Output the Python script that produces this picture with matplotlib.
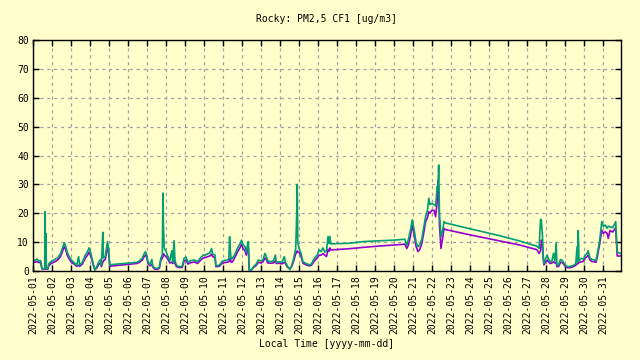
import numpy as np
import pandas as pd
import matplotlib
matplotlib.use('Agg')
import matplotlib.pyplot as plt
import matplotlib.dates as mdates

# days since 2022-05-01 00:00 local time
day = [0.00, 0.10, 0.20, 0.30, 0.40, 0.47, 0.55, 0.62, 0.63, 0.65, 0.68, 0.70, 0.78, 0.83, 0.90,
       1.00, 1.15, 1.30, 1.45, 1.55, 1.65, 1.72, 1.80, 1.90, 2.02, 2.15, 2.30, 2.40, 2.45, 2.60,
       2.75, 2.85, 2.95, 3.05, 3.15, 3.25, 3.35, 3.45, 3.55, 3.60, 3.67, 3.70, 3.80, 3.87, 3.92,
       3.97, 4.04, 4.10, 5.45, 5.60, 5.75, 5.85, 5.92, 5.98, 6.05, 6.15, 6.25, 6.30, 6.40, 6.55,
       6.65, 6.72, 6.80, 6.84, 6.86, 6.90, 7.00, 7.10, 7.20, 7.30, 7.35, 7.42, 7.47, 7.55, 7.70,
       7.85, 7.95, 8.05, 8.15, 8.30, 8.50, 8.65, 8.80, 8.95, 9.05, 9.20, 9.30, 9.39, 9.45, 9.58,
       9.62, 9.80, 9.95, 10.05, 10.20, 10.30, 10.34, 10.38, 10.42, 10.50, 10.60, 10.75, 10.90,
       10.97, 11.05, 11.15, 11.22, 11.30, 11.33, 11.37, 11.50, 11.60, 11.75, 11.85, 12.00, 12.10,
       12.20, 12.27, 12.35, 12.50, 12.65, 12.75, 12.80, 12.95, 13.10, 13.22, 13.28, 13.40, 13.52,
       13.60, 13.70, 13.82, 13.88, 13.90, 13.93, 14.00, 14.10, 14.20, 14.40, 14.55, 14.65, 14.80,
       14.95, 15.05, 15.15, 15.25, 15.35, 15.44, 15.52, 15.57, 15.62, 15.66, 16.60, 17.40, 18.30,
       19.00, 19.56, 19.62, 19.66, 19.75, 19.85, 19.95, 20.05, 20.15, 20.25, 20.35, 20.45, 20.55,
       20.65, 20.75, 20.82, 20.88, 20.97, 21.10, 21.18, 21.26, 21.30, 21.34, 21.38, 21.46, 21.55,
       21.62, 21.67, 23.00, 24.50, 25.60, 26.50, 26.62, 26.70, 26.74, 26.80, 26.84, 26.88, 26.95,
       27.05, 27.12, 27.20, 27.30, 27.38, 27.45, 27.52, 27.56, 27.65, 27.75, 27.85, 27.95, 28.05,
       28.20, 28.35, 28.45, 28.55, 28.62, 28.65, 28.68, 28.72, 28.85, 28.95, 29.05, 29.15, 29.20,
       29.30, 29.40, 29.50, 29.62, 29.70, 29.80, 29.92, 30.00, 30.10, 30.20, 30.26, 30.35, 30.50,
       30.65, 30.73, 30.85, 30.93]

# channel A (violet)
pm_a = [3.2, 3.0, 3.3, 2.9, 3.0, 0.7, 0.5, 0.8, 1.5, 0.8, 1.5, 0.7, 0.6, 1.8, 2.3,
        2.8, 3.2, 3.8, 5.0, 6.8, 8.4, 7.5, 5.5, 4.2, 3.0, 2.5, 1.6, 2.0, 1.6, 2.4,
        4.5, 5.3, 6.5, 5.0, 2.5, 0.5, 1.0, 2.2, 2.8, 1.5, 3.0, 3.5, 4.0, 6.5, 8.5,
        6.8, 1.6, 1.7, 2.6, 3.0, 3.8, 5.0, 5.5, 4.8, 2.6, 1.8, 2.2, 1.4, 0.6, 0.6,
        1.0, 3.5, 4.5, 5.0, 6.0, 5.5, 5.0, 4.0, 2.8, 3.0, 2.6, 3.5, 2.5, 1.5, 1.2,
        1.2, 3.5, 3.8, 2.4, 2.9, 3.1, 2.6, 3.6, 4.5, 4.6, 5.0, 5.2, 5.8, 5.0, 4.6,
        1.5, 1.6, 2.7, 2.9, 3.0, 3.2, 4.0, 4.5, 3.0, 3.2, 4.5, 6.5, 8.2,
        9.3, 7.8, 7.0, 5.5, 8.5, 8.0, 0.5, 0.4, 1.2, 2.0, 3.0, 2.8, 3.2,
        4.5, 4.0, 2.8, 2.7, 2.8, 3.5, 2.6, 2.7, 2.5, 3.0, 2.5, 1.2, 1.0,
        1.4, 3.2, 6.0, 6.5, 7.0, 6.5, 6.5, 5.0, 2.7, 2.0, 1.8, 2.0, 3.5,
        4.5, 5.5, 5.5, 6.0, 5.5, 5.0, 7.5, 6.8, 8.0, 7.3, 7.7, 8.2, 8.7,
        9.0, 9.3, 8.4, 7.8, 9.0, 12.0, 15.9, 12.5, 8.5, 6.7, 7.5, 9.5, 13.0,
        17.1, 18.5, 20.5, 20.0, 21.0, 21.0, 18.8, 24.0, 31.5, 28.0, 16.0, 7.8, 11.5,
        14.8, 14.4, 12.5, 10.5, 9.0, 7.4, 6.1, 7.0, 10.7, 9.0, 4.0, 2.1, 3.0,
        3.8, 3.2, 2.6, 2.8, 3.2, 2.8, 3.0, 1.5, 1.6, 3.0, 2.9, 2.0, 1.3,
        1.1, 1.3, 1.6, 2.0, 2.5, 2.5, 3.0, 2.9, 3.2, 3.3, 4.5, 5.0, 5.5,
        3.8, 3.3, 3.2, 3.0, 5.5, 9.0, 14.2, 13.0, 13.6, 13.0, 11.3, 14.0, 13.5,
        15.0, 5.2, 5.2, 5.2]

# channel B (green)
pm_b = [4.0, 3.6, 4.2, 3.5, 3.6, 1.0, 0.6, 1.0, 20.5, 1.2, 13.0, 1.0, 0.8, 2.5, 3.0,
        3.5, 4.0, 4.5, 6.0, 8.0, 9.8, 8.5, 6.5, 5.0, 3.8, 3.0, 2.0, 5.0, 2.0, 3.0,
        5.5, 6.5, 8.0, 6.0, 3.0, 0.3, 1.5, 3.0, 4.0, 2.0, 13.4, 4.5, 5.0, 8.0, 10.2,
        8.0, 2.0, 2.2, 3.0, 3.5, 4.5, 6.0, 6.7, 5.5, 3.2, 2.2, 4.0, 1.8, 1.0, 0.9,
        1.5, 4.4, 5.5, 27.0, 16.5, 8.0, 6.7, 5.0, 3.5, 7.0, 3.0, 10.5, 3.5, 2.0, 1.5,
        1.6, 4.5, 4.8, 3.0, 3.6, 3.8, 3.2, 4.5, 5.5, 5.5, 6.0, 6.2, 7.8, 5.8, 5.5,
        1.8, 2.0, 3.3, 3.6, 3.8, 4.0, 11.9, 7.0, 4.2, 4.4, 5.5, 7.8, 9.5,
        10.7, 9.0, 8.4, 6.5, 9.8, 10.2, 0.3, 0.5, 1.5, 2.5, 3.8, 3.5, 4.0,
        6.1, 5.0, 3.5, 3.2, 3.5, 5.5, 3.0, 3.2, 3.0, 5.0, 3.0, 1.5, 0.5,
        1.8, 4.0, 7.8, 21.7, 30.0, 10.0, 7.8, 6.0, 3.2, 2.5, 2.1, 2.5, 4.4,
        5.5, 7.3, 6.7, 8.0, 6.5, 7.0, 11.9, 9.5, 12.0, 9.4, 9.6, 10.2, 10.5,
        10.7, 11.0, 9.6, 9.0, 11.0, 14.0, 17.7, 14.2, 10.0, 8.4, 9.0, 11.0, 15.0,
        18.8, 21.0, 25.2, 23.0, 23.4, 23.0, 22.5, 29.2, 28.0, 36.7, 20.0, 11.9, 14.0,
        17.1, 16.7, 14.6, 12.3, 10.4, 8.6, 7.8, 17.9, 17.5, 12.0, 5.0, 2.6, 4.0,
        5.5, 4.0, 3.2, 3.5, 6.1, 3.5, 9.8, 2.1, 2.2, 4.0, 3.6, 2.5, 1.7,
        1.5, 1.8, 2.0, 2.6, 8.4, 3.0, 14.0, 3.5, 4.4, 4.0, 5.5, 6.1, 7.0,
        4.5, 4.0, 3.9, 3.6, 6.5, 10.2, 17.1, 15.5, 15.9, 14.8, 15.5, 15.3, 15.0,
        17.1, 6.7, 6.1, 6.1]

title = 'Rocky: PM2,5 CF1 [ug/m3]'
xlabel = 'Local Time [yyyy-mm-dd]'

bg = '#ffffcc'
plt.rcParams['font.family'] = 'DejaVu Sans Mono'
plt.rcParams['font.size'] = 7

start = pd.Timestamp('2022-05-01')
t = start + pd.to_timedelta(day, unit='D')

fig = plt.figure(figsize=(6.4, 3.6), dpi=100, facecolor=bg)
ax = fig.add_axes([33 / 640, 1 - 271 / 360, (621 - 33) / 640, (271 - 40) / 360])
ax.set_facecolor(bg)

ax.plot(t, pm_a, color='#9400d3', lw=1.2)
ax.plot(t, pm_b, color='#009e73', lw=1.2)

ax.set_xlim(t[0], t[-1])
ax.set_ylim(0, 80)
ax.set_yticks(np.arange(0, 81, 10))
ax.xaxis.set_major_locator(mdates.DayLocator())
ax.xaxis.set_major_formatter(mdates.DateFormatter('%Y-%m-%d'))
plt.setp(ax.get_xticklabels(), rotation=90)

ax.grid(True, color='#a0a0a0', lw=0.9, linestyle=(0, (2.5, 3)))
ax.tick_params(direction='in', length=4, width=1, top=True, right=True, pad=3)
for s in ax.spines.values():
    s.set_linewidth(1)

ax.set_title(title, fontsize=7, pad=13)
ax.set_xlabel(xlabel, fontsize=7, labelpad=4)

fig.savefig('out.png', dpi=100, facecolor=bg)
